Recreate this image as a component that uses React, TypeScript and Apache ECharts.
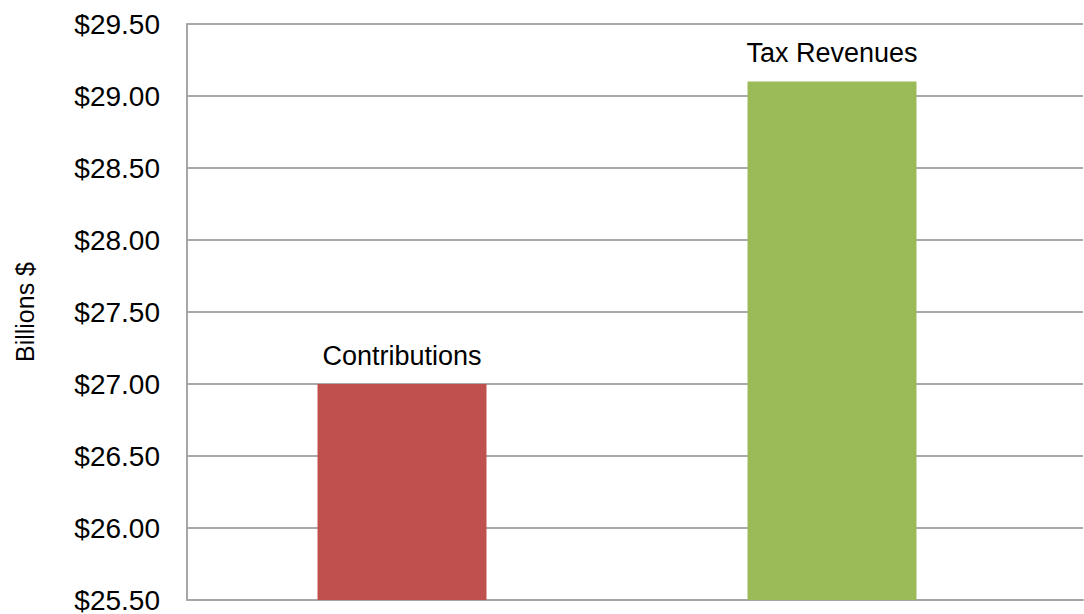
import React, { useEffect, useRef } from "react";
import * as echarts from "echarts";

const categories = ["Contributions", "Tax Revenues"];
const values = [27.0, 29.1];
const barColors = ["#C0504D", "#9BBB59"];
const yMin = 25.5;
const yMax = 29.5;
const yStep = 0.5;

const FONT = "'Liberation Sans', Arial, sans-serif";

export default function App() {
  const ref = useRef<HTMLDivElement>(null);
  useEffect(() => {
    document.body.style.margin = "0";
    const chart = echarts.init(ref.current!, null, { renderer: "svg" });
    chart.setOption({
      animation: false,
      backgroundColor: "#ffffff",
      textStyle: { fontFamily: FONT },
      grid: [
        { left: 187, right: 37, top: 24, bottom: 14 },
        { left: 187, right: 1, top: 24, bottom: 14 },
      ],
      xAxis: [
        {
          type: "category",
          gridIndex: 0,
          data: categories,
          axisLine: { show: false },
          axisTick: { show: false },
          axisLabel: { show: false },
        },
        {
          type: "value",
          gridIndex: 1,
          min: 0,
          max: 1,
          axisLine: { show: true, onZero: false, lineStyle: { color: "#a6a6a6", width: 2 } },
          axisTick: { show: false },
          axisLabel: { show: false },
          splitLine: { show: false },
        },
      ],
      yAxis: [
        {
          type: "value",
          gridIndex: 0,
          min: yMin,
          max: yMax,
          interval: yStep,
          axisLine: { show: false },
          axisTick: { show: false },
          axisLabel: { show: false },
          splitLine: { show: false },
        },
        {
          type: "value",
          gridIndex: 1,
          min: yMin,
          max: yMax,
          interval: yStep,
          name: "Billions $",
          nameLocation: "middle",
          nameGap: 150,
          nameRotate: 90,
          nameTextStyle: { fontFamily: FONT, fontSize: 25, color: "#000" },
          axisLine: { show: true, lineStyle: { color: "#a6a6a6", width: 2 } },
          axisTick: { show: false },
          axisLabel: {
            margin: 27,
            fontFamily: FONT,
            fontSize: 28,
            color: "#000",
            formatter: (v: number) => "$" + v.toFixed(2),
          },
          splitLine: { show: true, lineStyle: { color: "#8c8c8c", width: 1.5 } },
        },
      ],
      series: [
        {
          type: "bar",
          xAxisIndex: 0,
          yAxisIndex: 0,
          barWidth: 169,
          z: 3,
          data: values.map((v, i) => ({ value: v, itemStyle: { color: barColors[i] } })),
          label: {
            show: true,
            position: "top",
            distance: 15,
            fontFamily: FONT,
            fontSize: 27,
            color: "#000",
            formatter: (p: any) => categories[p.dataIndex],
          },
        },
      ],
    });
    return () => chart.dispose();
  }, []);
  return <div ref={ref} style={{ width: 1084, height: 614 }} />;
}
